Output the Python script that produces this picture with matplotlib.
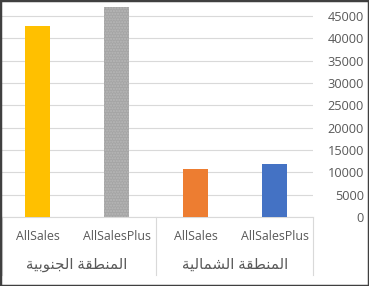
import matplotlib
matplotlib.use("Agg")
import matplotlib.pyplot as plt
from matplotlib.patches import Rectangle

# data
groups = ["المنطقة الجنوبية", "المنطقة الشمالية"]
series = ["AllSales", "AllSalesPlus", "AllSales", "AllSalesPlus"]
values = [42800, 47000, 10800, 11900]
colors = ["#FFC000", "#A5A5A5", "#ED7D31", "#4472C4"]
yticks = [0, 5000, 10000, 15000, 20000, 25000, 30000, 35000, 40000, 45000]

# arabic presentation forms: (isolated, final, initial, medial)
FORMS = {
    "ا": ("\uFE8D", "\uFE8E", "\uFE8D", "\uFE8E"),
    "ل": ("\uFEDD", "\uFEDE", "\uFEDF", "\uFEE0"),
    "م": ("\uFEE1", "\uFEE2", "\uFEE3", "\uFEE4"),
    "ن": ("\uFEE5", "\uFEE6", "\uFEE7", "\uFEE8"),
    "ط": ("\uFEC1", "\uFEC2", "\uFEC3", "\uFEC4"),
    "ق": ("\uFED5", "\uFED6", "\uFED7", "\uFED8"),
    "ة": ("\uFE93", "\uFE94", "\uFE93", "\uFE94"),
    "ج": ("\uFE9D", "\uFE9E", "\uFE9F", "\uFEA0"),
    "و": ("\uFEED", "\uFEEE", "\uFEED", "\uFEEE"),
    "ب": ("\uFE8F", "\uFE90", "\uFE91", "\uFE92"),
    "ي": ("\uFEF1", "\uFEF2", "\uFEF3", "\uFEF4"),
    "ش": ("\uFEB5", "\uFEB6", "\uFEB7", "\uFEB8"),
}
RIGHT_ONLY = set("اوة")


def shape(text):
    # simple contextual shaping + reversal, since matplotlib has no bidi
    out = []
    for i, ch in enumerate(text):
        if ch not in FORMS:
            out.append(ch)
            continue
        prev = text[i - 1] if i > 0 else ""
        nxt = text[i + 1] if i + 1 < len(text) else ""
        jp = prev in FORMS and prev not in RIGHT_ONLY
        jn = nxt in FORMS and ch not in RIGHT_ONLY
        iso, fin, ini, med = FORMS[ch]
        if jp and jn:
            out.append(med)
        elif jp:
            out.append(fin)
        elif jn:
            out.append(ini)
        else:
            out.append(iso)
    return "".join(out)[::-1]


W, H = 369, 286
fig = plt.figure(figsize=(W / 100, H / 100), dpi=100)
fam = ["Open Sans", "DejaVu Sans"]
txt = "#595959"
fs = 9.2

# plot area in pixels: x 2..313, y 3..217
ax = fig.add_axes([2 / W, (H - 217) / H, 311 / W, 214 / H])
px5000 = 201 / 9
ax.set_ylim(0, 214 / px5000 * 5000)
x0 = (2 - 37.5) / 79
x1 = (313 - 37.5) / 79
ax.set_xlim(x0, x1)

xs = list(range(len(values)))
for i in xs:
    hatch = "......" if i == 1 else None
    ax.bar(i, values[i], width=25 / 79, color=colors[i], zorder=3,
           hatch=hatch, edgecolor="#B8B8B8" if hatch else colors[i], linewidth=0)

ax.set_yticks(yticks)
ax.yaxis.tick_right()
ax.tick_params(axis="y", length=0, pad=36.7, labelsize=fs, labelcolor=txt)
for lab in ax.get_yticklabels():
    lab.set_ha("right")
    lab.set_family(fam)
ax.set_xticks([])
ax.grid(axis="y", color="#D9D9D9", linewidth=0.8, zorder=0)
for s in ax.spines.values():
    s.set_visible(False)

# category axis
trans = ax.get_xaxis_transform()
ax.plot([x0, x1], [0, 0], transform=trans, color="#D9D9D9", lw=0.8, clip_on=False)
bottom = -(275 - 217) / 214
for xv in [x0, 1.5, x1]:
    ax.plot([xv, xv], [0, bottom], transform=trans, color="#D9D9D9", lw=0.8, clip_on=False)

y_sub = -(237 - 217) / 214
y_grp = -(265 - 217) / 214
for i, s in enumerate(series):
    ax.text(i, y_sub, s, transform=trans, ha="center", va="center",
            fontsize=8.9, color=txt, family=fam)
for g, name in enumerate(groups):
    ax.text(2 * g + 0.5, y_grp, shape(name), transform=trans, ha="center",
            va="center", fontsize=10.8, color=txt, family=fam)

# outer border
fig.patches.append(Rectangle((0, 0), 1, 1, transform=fig.transFigure,
                             fill=False, edgecolor="#404040", linewidth=2.5))

fig.savefig("out.png", dpi=100)
